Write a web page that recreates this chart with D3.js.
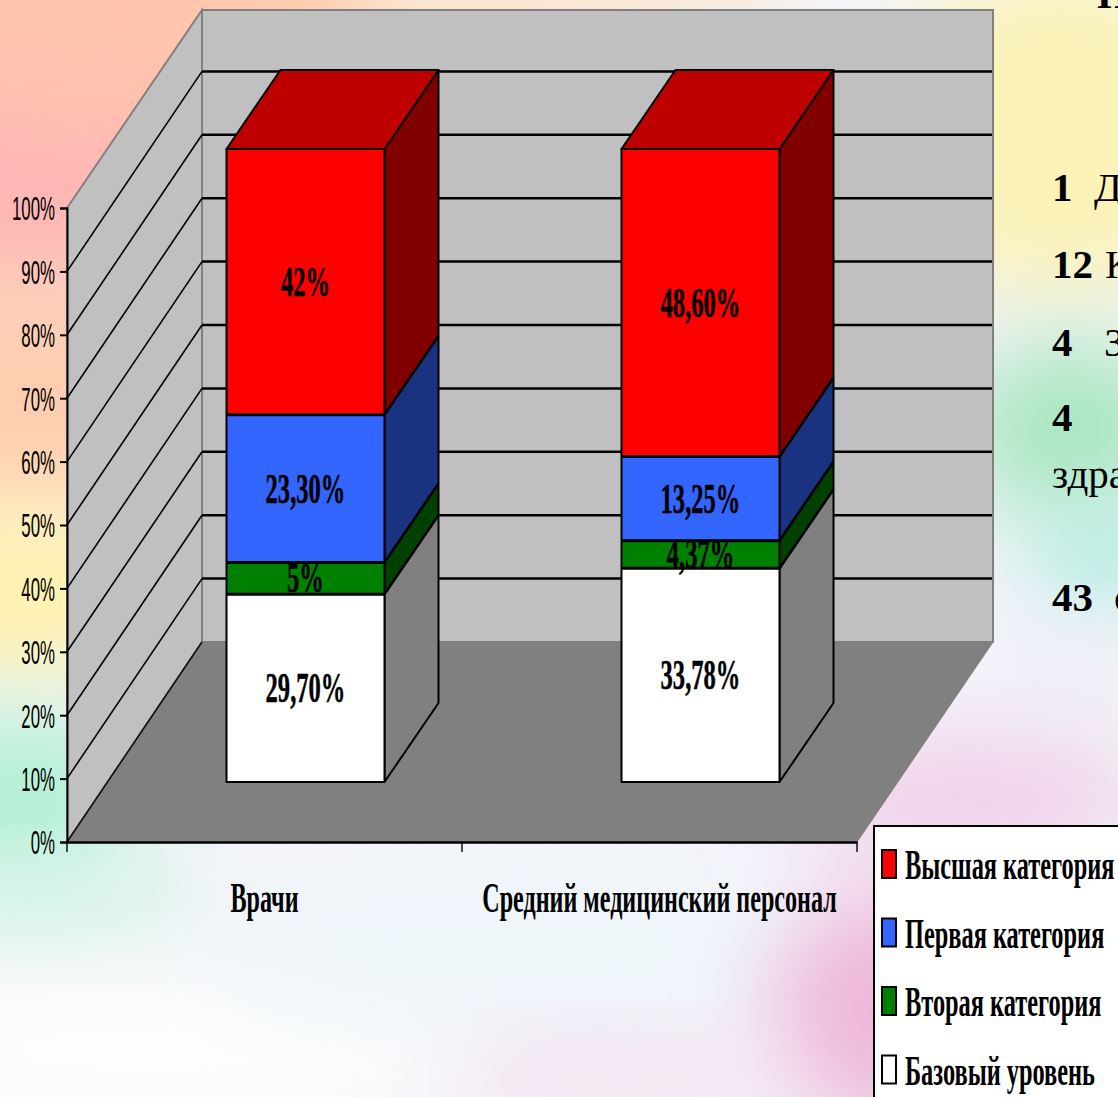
<!DOCTYPE html>
<html><head><meta charset="utf-8">
<script src="https://cdn.jsdelivr.net/npm/d3@7/dist/d3.min.js"></script>
<style>html,body{margin:0;padding:0;overflow:hidden;background:#fff}svg{display:block}</style>
</head><body><div id="c"></div>
<script>
const categories = ["Врачи", "Средний медицинский персонал"];
const seriesNames = ["Базовый уровень", "Вторая категория", "Первая категория", "Высшая категория"];
const base = [29.70, 33.78];
const second = [5, 4.37];
const first = [23.30, 13.25];
const highest = [42, 48.60];
const baseLabels = ["29,70%", "33,78%"];
const secondLabels = ["5%", "4,37%"];
const firstLabels = ["23,30%", "13,25%"];
const highestLabels = ["42%", "48,60%"];
const tickValues = [0,10,20,30,40,50,60,70,80,90,100];
const sideNotes = [["1",1052,201,true],["Д",1094,201,false],["12",1052,278,true],["К",1105,278,false],["4",1052,356,true],["З",1104,356,false],["4",1052,431,true],["здра",1052,488,false],["43",1052,611,true],["с",1114,611,false],["П",1097,8,true]];

const W=1118,H=1097;
const svg=d3.select("#c").append("svg").attr("width",W).attr("height",H);
const defs=svg.append("defs");
defs.append("filter").attr("id","b").attr("x","-50%").attr("y","-50%").attr("width","200%").attr("height","200%")
  .append("feGaussianBlur").attr("stdDeviation",45);

// pastel backdrop
const bg=svg.append("g");
bg.append("rect").attr("width",W).attr("height",H).attr("fill","#f4f4fa");
const blobs=[[0,90,300,230,"#ffb6b6"],[120,10,260,120,"#ffc4ae"],[20,400,170,130,"#ffcdb0"],[15,590,170,90,"#fff2b0"],
[500,-10,300,30,"#ffd9a8"],[1060,130,170,170,"#fbf3b8"],[1070,430,110,90,"#a8e6c0"],[1110,560,80,55,"#b0ece0"],
[20,800,120,85,"#b0f0d4"],[60,905,150,40,"#d4f5e6"],[150,1050,320,70,"#fefefc"],[520,950,320,80,"#eef6fa"],
[1070,680,110,50,"#efeef8"],[970,800,180,60,"#f0cfe8"],[890,1010,120,120,"#eeb8da"],[620,1080,170,40,"#f4e0ee"]];
bg.selectAll("ellipse").data(blobs).join("ellipse")
  .attr("cx",d=>d[0]).attr("cy",d=>d[1]).attr("rx",d=>d[2]).attr("ry",d=>d[3]).attr("fill",d=>d[4]).attr("filter","url(#b)");

// scales
const y=d3.scaleLinear().domain([0,100]).range([842,208]);
const x=d3.scaleBand().domain(categories).range([67,857]);
const DX=135, DY=-200;            // full depth of the box
const barDX=54, barDY=-79;        // depth of a bar
const barFront=[41,-60];          // bar's shift off the front plane
const barW=x.bandwidth()*0.4;

const pts=a=>a.map(p=>p.join(",")).join(" ");
const g=svg.append("g");
// floor and walls
g.append("polygon").attr("points",pts([[x.range()[0],y(0)],[x.range()[0]+DX,y(0)+DY],[x.range()[1]+DX+1,y(0)+DY],[x.range()[1],y(0)]])).attr("fill","#808080").attr("stroke","#808080");
g.append("polygon").attr("points",pts([[x.range()[0],y(0)],[x.range()[0],y(100)],[x.range()[0]+DX,y(100)+DY+2],[x.range()[0]+DX,y(0)+DY]])).attr("fill","#c0c0c0").attr("stroke","#808080").attr("stroke-width",2);
g.append("rect").attr("x",x.range()[0]+DX).attr("y",y(100)+DY+2).attr("width",x.range()[1]-x.range()[0]+1).attr("height",y(0)-y(100)-2).attr("fill","#c0c0c0").attr("stroke","#808080").attr("stroke-width",2);

// gridlines
const grid=g.append("g");
grid.selectAll("line.l").data(tickValues.slice(1,-1).concat([0])).join("line").attr("class","l")
  .attr("x1",x.range()[0]).attr("y1",d=>y(d)).attr("x2",x.range()[0]+DX).attr("y2",d=>y(d)+DY)
  .attr("stroke",d=>d===0?"#111":"#000").attr("stroke-width",1.6);
grid.selectAll("line.b").data(tickValues.slice(1,-1)).join("line").attr("class","b")
  .attr("x1",x.range()[0]+DX).attr("y1",d=>y(d)+DY).attr("x2",x.range()[1]+DX).attr("y2",d=>y(d)+DY)
  .attr("stroke","#000").attr("stroke-width",2.5);

// bars
const stack=[
 {values:base,labels:baseLabels,front:"#ffffff",side:"#808080",top:"#bfbfbf"},
 {values:second,labels:secondLabels,front:"#008000",side:"#004000",top:"#006000"},
 {values:first,labels:firstLabels,front:"#3366ff",side:"#1a3380",top:"#264dbf"},
 {values:highest,labels:highestLabels,front:"#ff0000",side:"#800000",top:"#bf0000"}
];
const labelsToDraw=[];
categories.forEach((c,i)=>{
  const x0=x(c)+x.bandwidth()*0.3+barFront[0], x1=x0+barW;
  let cum=0;
  stack.forEach((s,si)=>{
    const y0=y(cum)+barFront[1], y1=y(cum+s.values[i])+barFront[1]+1;
    cum+=s.values[i];
    const st={stroke:"#000","stroke-width":2,"stroke-linejoin":"round"};
    const side=g.append("polygon").attr("points",pts([[x1,y0],[x1,y1],[x1+barDX,y1+barDY],[x1+barDX,y0+barDY]])).attr("fill",s.side);
    const front=g.append("rect").attr("x",x0).attr("y",y1).attr("width",barW).attr("height",y0-y1).attr("fill",s.front);
    [side,front].forEach(e=>Object.entries(st).forEach(([k,v])=>e.attr(k,v)));
    if(si===stack.length-1){
      const top=g.append("polygon").attr("points",pts([[x0,y1],[x1,y1],[x1+barDX,y1+barDY],[x0+barDX,y1+barDY]])).attr("fill",s.top);
      Object.entries(st).forEach(([k,v])=>top.attr(k,v));
    }
    labelsToDraw.push({t:s.labels[i],x:(x0+x1)/2,y:(y0+y1)/2});
  });
});

// condense helper
function squeeze(sel,k){
  sel.each(function(){
    const len=this.getComputedTextLength();
    d3.select(this).attr("lengthAdjust","spacingAndGlyphs").attr("textLength",len*k);
  });
}
const SERIF="'Liberation Serif','DejaVu Serif',serif", SANS="'Liberation Sans',Arial,sans-serif";

// data labels
const dl=g.append("g").selectAll("text").data(labelsToDraw).join("text")
  .attr("x",d=>d.x).attr("y",d=>d.y+14).attr("text-anchor","middle")
  .attr("font-family",SERIF).attr("font-weight","bold").attr("font-size",42).attr("fill","#000")
  .attr("stroke","#000").attr("stroke-width",0.5).text(d=>d.t);
squeeze(dl,0.585);

// axes
const ax=svg.append("g").attr("transform",`translate(${x.range()[0]},0)`)
  .call(d3.axisLeft(y).tickValues(tickValues).tickFormat(d=>d+"%").tickSize(7).tickPadding(5));
ax.selectAll("path,line").attr("stroke","#000").attr("stroke-width",2);
const axT=ax.selectAll("text").attr("font-family",SANS).attr("font-size",33).attr("fill","#000").attr("dy","0.36em");
squeeze(axT,0.51);

const bx=svg.append("g").attr("transform",`translate(0,${y(0)})`)
  .call(d3.axisBottom(x).tickSize(0).tickPadding(0));
bx.select("path").attr("stroke","#000").attr("stroke-width",2.4);
bx.selectAll("text").attr("y",70).attr("dy",0).attr("font-family",SERIF).attr("font-weight","bold").attr("font-size",42).attr("fill","#000");
squeeze(bx.selectAll("text"),0.574);
const tickXs=[x(categories[0]),x(categories[1]),x(categories[1])+x.bandwidth()];
svg.append("g").selectAll("line").data(tickXs).join("line")
  .attr("x1",d=>d).attr("x2",d=>d).attr("y1",y(0)).attr("y2",y(0)+10).attr("stroke","#000").attr("stroke-width",1.4);

// legend
const leg=svg.append("g");
leg.append("rect").attr("x",874).attr("y",826).attr("width",260).attr("height",290).attr("fill","#fff").attr("stroke","#000").attr("stroke-width",2);
const order=stack.slice().reverse(), names=seriesNames.slice().reverse();
const rows=leg.selectAll("g.r").data(order).join("g").attr("class","r").attr("transform",(d,i)=>`translate(0,${865+i*68.5})`);
rows.append("rect").attr("x",882).attr("y",-15).attr("width",14).attr("height",28).attr("fill",d=>d.front).attr("stroke","#000").attr("stroke-width",2);
const lt=rows.append("text").attr("x",905).attr("y",14).attr("font-family",SERIF).attr("font-weight","bold").attr("font-size",42).attr("fill","#000").text((d,i)=>names[i]);
squeeze(lt,0.58);

// clipped side text
svg.append("g").selectAll("text").data(sideNotes).join("text")
  .attr("x",d=>d[1]).attr("y",d=>d[2]).text(d=>d[0])
  .attr("font-family",SERIF).attr("font-weight",d=>d[3]?"bold":"normal").attr("font-size",41).attr("fill","#000");
</script></body></html>
